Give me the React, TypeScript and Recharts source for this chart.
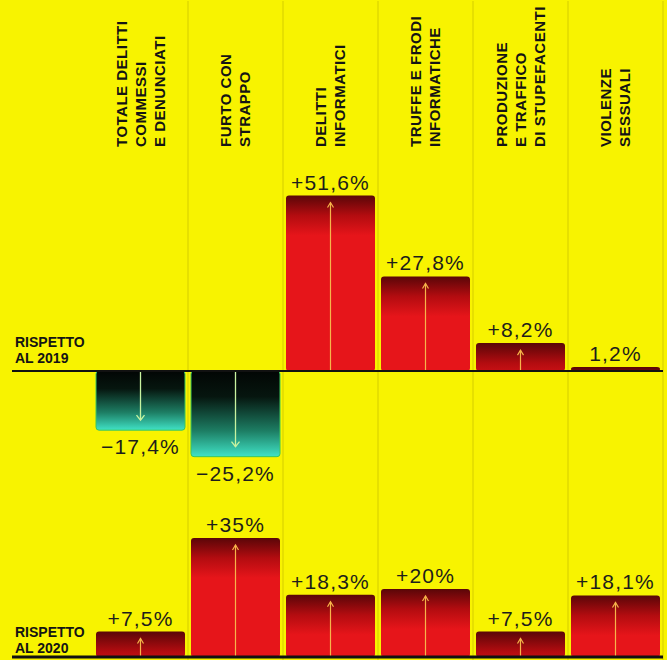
import React from "react";
import { BarChart, Bar, XAxis, YAxis, CartesianGrid, ReferenceLine, LabelList } from "recharts";

// ---------- data ----------
const categories: string[][] = [
  ["TOTALE DELITTI", "COMMESSI", "E DENUNCIATI"],
  ["FURTO CON", "STRAPPO"],
  ["DELITTI", "INFORMATICI"],
  ["TRUFFE E FRODI", "INFORMATICHE"],
  ["PRODUZIONE", "E TRAFFICO", "DI STUPEFACENTI"],
  ["VIOLENZE", "SESSUALI"],
];
const change2019 = [-17.4, -25.2, 51.6, 27.8, 8.2, 1.2];
const labels2019 = ["−17,4%", "−25,2%", "+51,6%", "+27,8%", "+8,2%", "1,2%"];
const change2020 = [7.5, 35, 18.3, 20, 7.5, 18.1];
const labels2020 = ["+7,5%", "+35%", "+18,3%", "+20%", "+7,5%", "+18,1%"];
const title2019 = ["RISPETTO", "AL 2019"];
const title2020 = ["RISPETTO", "AL 2020"];

const rows = categories.map((lines, i) => ({
  name: lines.join("\n"),
  v2019: change2019[i],
  l2019: labels2019[i],
  v2020: change2020[i],
  l2020: labels2020[i],
}));

// ---------- layout ----------
const W = 667;
const H = 660;
const PAD_LEFT = 81;
const AXIS_H = 1;
const MARGIN_A = { top: 0, right: 4, bottom: 0, left: 12 };
const MARGIN_B = { top: 0, right: 4, bottom: 3, left: 12 };
const PX_PER_PCT = 3.4;
const ZERO_A = 371; // y of the 2019 baseline
const DOMAIN_A: [number, number] = [-(H - ZERO_A) / PX_PER_PCT, (ZERO_A - AXIS_H) / PX_PER_PCT];
const DOMAIN_B: [number, number] = [0, (H - MARGIN_B.bottom) / PX_PER_PCT];
const LABEL_BOTTOM = 147;
const BG = "#f8f300";
const VALUE_FONT = "'Liberation Sans', Arial, sans-serif";
const BOLD_FONT = "'Liberation Sans', Arial, sans-serif";

function CategoryTick(props: any) {
  const { x, payload } = props;
  const lines = String(payload.value).split("\n");
  const n = lines.length;
  return (
    <g transform={`translate(${x},${LABEL_BOTTOM}) rotate(-90)`}>
      <text
        x={0}
        y={0}
        textAnchor="start"
        fontFamily={BOLD_FONT}
        fontWeight={700}
        fontSize={15}
        letterSpacing={0.5}
        fill="#141414"
      >
        {lines.map((l, i) => (
          <tspan key={i} x={0} y={(i - (n - 1) / 2) * 19 + 5.4}>
            {l}
          </tspan>
        ))}
      </text>
    </g>
  );
}

function makeBarShape(prefix: string) {
  return (props: any) => {
    const { x, y, width, height, index } = props;
    const h = Math.abs(height);
    const top = Math.min(y, y + height);
    const bottom = top + h;
    const neg = (props.payload && props.payload[prefix] < 0) || false;
    const cx = x + width / 2;
    const id = `grad-${prefix}-${index}`;
    if (neg) {
      return (
        <g>
          <defs>
            <linearGradient id={id} x1="0" y1="0" x2="0" y2="1">
              <stop offset="0" stopColor="#020604" />
              <stop offset="0.3" stopColor="#06160f" />
              <stop offset="0.7" stopColor="#1d7e64" />
              <stop offset="1" stopColor="#40e2c6" />
            </linearGradient>
          </defs>
          <rect x={x} y={top} width={width} height={h} rx={3} fill={`url(#${id})`} stroke="#3cc65a" strokeWidth={1} />
          {h > 14 && (
            <g stroke="#c8f3a0" strokeWidth={1.3} fill="none">
              <line x1={cx} y1={top} x2={cx} y2={bottom - 10} />
              <polyline points={`${cx - 4},${bottom - 15} ${cx},${bottom - 10} ${cx + 4},${bottom - 15}`} />
            </g>
          )}
        </g>
      );
    }
    return (
      <g>
        <defs>
          <linearGradient id={id} gradientUnits="userSpaceOnUse" x1={0} y1={top} x2={0} y2={top + 40}>
            <stop offset="0" stopColor="#5a0608" />
            <stop offset="0.5" stopColor="#b30c10" />
            <stop offset="1" stopColor="#e6151a" />
          </linearGradient>
        </defs>
        <rect x={x} y={top} width={width} height={h} rx={3} fill={`url(#${id})`} />
        {h > 14 && (
          <g stroke="#f6b54a" strokeWidth={1.2} fill="none">
            <line x1={cx} y1={bottom} x2={cx} y2={top + 7} />
            <polyline points={`${cx - 3},${top + 12} ${cx},${top + 7} ${cx + 3},${top + 12}`} />
          </g>
        )}
      </g>
    );
  };
}

function ValueLabel(props: any) {
  const { x, y, width, height, value } = props;
  const top = Math.min(y, y + height);
  const bottom = Math.max(y, y + height);
  const neg = String(value).startsWith("−");
  return (
    <text
      x={x + width / 2}
      y={neg ? bottom + 24 : top - 6}
      textAnchor="middle"
      fontFamily={VALUE_FONT}
      fontSize={21}
      letterSpacing={1.2}
      fill="#1d1d1b"
    >
      {value}
    </text>
  );
}

function PanelTitle(props: any) {
  const { viewBox, lines, dy } = props;
  const vx = viewBox ? viewBox.x : 12;
  const vy = viewBox ? viewBox.y : 0;
  return (
    <text fontFamily={BOLD_FONT} fontWeight={700} fontSize={14} fill="#141414">
      <tspan x={vx + 3} y={vy + dy}>
        {lines[0]}
      </tspan>
      <tspan x={vx + 3} y={vy + dy + 16}>
        {lines[1]}
      </tspan>
    </text>
  );
}

const separatorGen = ({ xAxis, offset }: any) => {
  const names = rows.map((r) => r.name);
  const s = xAxis && xAxis.scale;
  let f: ((v: string) => number) | null = null;
  if (typeof s === "function") f = s;
  else if (s && typeof s.map === "function") f = (v: string) => s.map(v);
  if (f && s && typeof s.bandwidth === "function") {
    const bw = s.bandwidth();
    const out = names.map((n) => (f as any)(n) + bw);
    if (out.every((v) => Number.isFinite(v))) return out;
  }
  const left = offset.left + PAD_LEFT;
  const step = (offset.width - PAD_LEFT) / names.length;
  return names.map((_, i) => left + step * (i + 1));
};

export default function App() {
  return (
    <div
      style={{
        position: "absolute",
        left: 0,
        top: 0,
        width: W,
        height: H,
        background: BG,
        overflow: "hidden",
      }}
    >
      <div style={{ position: "absolute", left: 0, top: 0 }}>
        <BarChart width={W} height={H} data={rows} margin={MARGIN_A} barCategoryGap={3}>
          <CartesianGrid horizontal={false} vertical stroke="#d4cd00" strokeWidth={1} verticalCoordinatesGenerator={separatorGen} />
          <XAxis
            dataKey="name"
            orientation="top"
            height={AXIS_H}
            axisLine={false}
            tickLine={false}
            interval={0}
            padding={{ left: PAD_LEFT, right: 0 }}
            tick={<CategoryTick />}
          />
          <YAxis hide domain={DOMAIN_A} allowDataOverflow type="number" />
          <Bar dataKey="v2019" isAnimationActive={false} shape={makeBarShape("v2019")}>
            <LabelList dataKey="l2019" content={<ValueLabel />} />
          </Bar>
          <ReferenceLine y={0} stroke="#111" strokeWidth={2} label={<PanelTitle lines={title2019} dy={-24} />} />
        </BarChart>
      </div>
      <div style={{ position: "absolute", left: 0, top: 0 }}>
        <BarChart width={W} height={H} data={rows} margin={MARGIN_B} barCategoryGap={3}>
          <XAxis dataKey="name" hide padding={{ left: PAD_LEFT, right: 0 }} />
          <YAxis hide domain={DOMAIN_B} allowDataOverflow type="number" />
          <Bar dataKey="v2020" isAnimationActive={false} shape={makeBarShape("v2020")}>
            <LabelList dataKey="l2020" content={<ValueLabel />} />
          </Bar>
          <ReferenceLine y={0} stroke="#111" strokeWidth={3} label={<PanelTitle lines={title2020} dy={-20} />} />
        </BarChart>
      </div>
    </div>
  );
}
